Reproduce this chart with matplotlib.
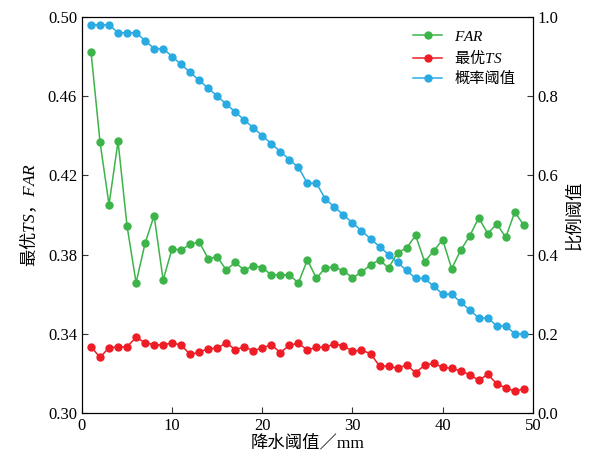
import numpy as np
import matplotlib.pyplot as plt

plt.rcParams['font.family'] = ['Liberation Serif', 'Noto Sans CJK SC']
plt.rcParams['mathtext.fontset'] = 'custom'
plt.rcParams['mathtext.rm'] = 'Liberation Serif'
plt.rcParams['mathtext.it'] = 'Liberation Serif:italic'

# data
thresh_mm = np.arange(1, 50)
far = [0.4825, 0.4369, 0.4052, 0.4372, 0.3944, 0.3658, 0.3857, 0.3997, 0.3672, 0.3830,
       0.3822, 0.3852, 0.3864, 0.3779, 0.3789, 0.3722, 0.3761, 0.3721, 0.3744, 0.3734,
       0.3697, 0.3697, 0.3697, 0.3657, 0.3773, 0.3680, 0.3734, 0.3737, 0.3717, 0.3684,
       0.3710, 0.3749, 0.3773, 0.3732, 0.3810, 0.3833, 0.3897, 0.3764, 0.3818, 0.3875,
       0.3729, 0.3822, 0.3894, 0.3986, 0.3906, 0.3955, 0.3887, 0.4015, 0.3948]
best_ts = [0.3335, 0.3281, 0.3330, 0.3333, 0.3335, 0.3382, 0.3355, 0.3345, 0.3343, 0.3355,
           0.3342, 0.3296, 0.3307, 0.3325, 0.3327, 0.3355, 0.3320, 0.3333, 0.3315, 0.3328,
           0.3345, 0.3305, 0.3342, 0.3352, 0.3318, 0.3332, 0.3332, 0.3350, 0.3338, 0.3313,
           0.3317, 0.3300, 0.3237, 0.3236, 0.3227, 0.3242, 0.3204, 0.3241, 0.3251, 0.3231,
           0.3226, 0.3212, 0.3194, 0.3165, 0.3195, 0.3148, 0.3126, 0.3111, 0.3121]
prob_thresh = [0.98, 0.98, 0.98, 0.96, 0.96, 0.96, 0.94, 0.92, 0.92, 0.90,
               0.88, 0.86, 0.84, 0.82, 0.80, 0.78, 0.76, 0.74, 0.72, 0.70,
               0.68, 0.66, 0.64, 0.62, 0.58, 0.58, 0.54, 0.52, 0.50, 0.48,
               0.46, 0.44, 0.42, 0.40, 0.38, 0.36, 0.34, 0.34, 0.32, 0.30,
               0.30, 0.28, 0.26, 0.24, 0.24, 0.22, 0.22, 0.20, 0.20]

green = '#3cb44a'
red = '#ee1c25'
blue = '#29abe2'
cjk = 'Noto Sans CJK SC'

fig = plt.figure(figsize=(5.94, 4.66), dpi=100)
ax = fig.add_axes([0.138, 0.1137, 0.759, 0.85])
ax2 = ax.twinx()

l1, = ax.plot(thresh_mm, far, '-o', color=green, ms=5, lw=1.1, label='$FAR$')
l2, = ax.plot(thresh_mm, best_ts, '-o', color=red, ms=5, lw=1.1, label='最优$TS$')
l3, = ax2.plot(thresh_mm, prob_thresh, '-o', color=blue, ms=5, lw=1.1, label='概率阈值')

ax.set_xlim(0, 50)
ax.set_ylim(0.30, 0.50)
ax2.set_ylim(0, 1.0)
ax.set_xticks([0, 10, 20, 30, 40, 50])
ax.set_yticks([0.30, 0.34, 0.38, 0.42, 0.46, 0.50])
ax.set_yticklabels(['0.30', '0.34', '0.38', '0.42', '0.46', '0.50'])
ax2.set_yticks([0, 0.2, 0.4, 0.6, 0.8, 1.0])
ax2.set_yticklabels(['0.0', '0.2', '0.4', '0.6', '0.8', '1.0'])

ax.tick_params(direction='in', labelsize=12, length=4, color='#333333')
ax2.tick_params(direction='in', labelsize=12, length=4, color='#333333')

ax.set_xlabel('降水阈值／mm', fontsize=12.5, labelpad=1)
ax.set_ylabel('最优$TS$，$FAR$', fontsize=12.5, labelpad=6, fontfamily=cjk)
ax2.set_ylabel('比例阈值', fontsize=12.5, labelpad=6)

leg = ax.legend(handles=[l1, l2, l3], loc='upper right', frameon=False, fontsize=11,
                handlelength=1.9, borderaxespad=0.3, labelspacing=0.3,
                bbox_to_anchor=(0.985, 0.995))
for t in leg.get_texts()[1:2]:
    t.set_fontfamily(cjk)

fig.savefig('out.png', dpi=100)
